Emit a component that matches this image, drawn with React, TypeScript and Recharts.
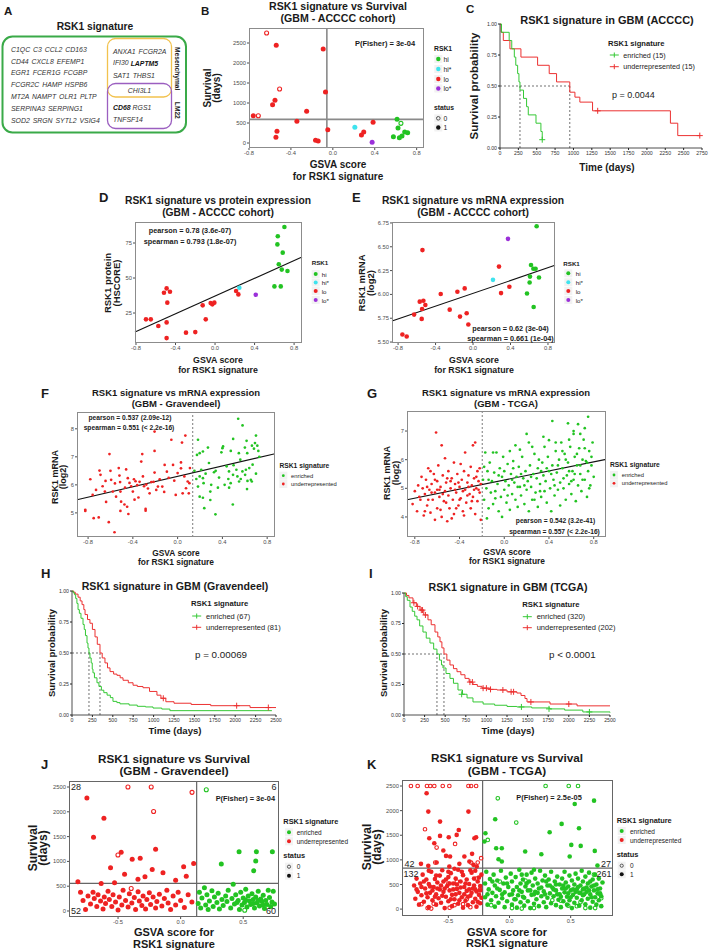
import React from 'react'
import {
  ScatterChart, Scatter, ComposedChart, Line,
  XAxis, YAxis, ReferenceLine,
} from 'recharts'

// ── Estilo ───────────────────────────────────────────────────────────────────

const FONT = '"Liberation Sans", Arial, Helvetica, sans-serif'

const GREEN = '#22c322'
const RED = '#ee2222'
const CYAN = '#3ee3ee'
const PURPLE = '#9b30d9'
const KM_GREEN = '#35c835'
const KM_RED = '#ec3131'

type Pt = [number, number]
type Box = { x: number; y: number; w: number; h: number }

// ── Ticks ────────────────────────────────────────────────────────────────────

const gsvaTicks = [-0.8, -0.4, 0, 0.4, 0.8]
const gsvaTicksWide = [-0.5, 0, 0.5]
const survTicks = [0, 500, 1000, 1500, 2000, 2500]
const proteinTicks = [25, 50, 75]
const mrnaTicksE = [5.5, 5.75, 6, 6.25, 6.5, 6.75]
const mrnaTicksF = [5, 6, 7, 8]
const mrnaTicksG = [4, 5, 6, 7]
const probTicks = [0, 0.25, 0.5, 0.75, 1]
const timeTicksC = [0, 250, 500, 750, 1000, 1250, 1500, 1750, 2000, 2250, 2500, 2750]
const timeTicks = [0, 250, 500, 750, 1000, 1250, 1500, 1750, 2000, 2250, 2500]

// ── A: gene lists ────────────────────────────────────────────────────────────

const genesMain = [
  'C1QC  C3  CCL2  CD163',
  'CD44  CXCL8  EFEMP1',
  'EGR1  FCER1G  FCGBP',
  'FCGR2C  HAMP  HSPB6',
  'MT2A  NAMPT  OLR1  PLTP',
  'SERPINA3  SERPING1',
  'SOD2  SRGN  SYTL2  VSIG4',
]

// ── B: survival vs GSVA (ACCCC) ──────────────────────────────────────────────

const bHi: Pt[] = [[0.613, 591], [0.622, 375], [0.686, 275], [0.714, 258], [0.578, 158], [0.635, 133], [0.66, 175]]
const bHiOpen: Pt[] = [[0.65, 491]]
const bHiStar: Pt[] = [[0.21, 391]]
const bLo: Pt[] = [
  [-0.54, 2441], [-0.092, 2350], [-0.07, 1275], [-0.552, 1066], [-0.575, 958], [-0.25, 791],
  [-0.759, 683], [-0.343, 541], [-0.048, 333], [-0.533, 291], [-0.543, 141], [-0.165, 66],
  [-0.14, 50], [0.384, 516], [0.295, 275], [0.273, 200],
]
const bLoOpen: Pt[] = [[-0.632, 2750], [-0.508, 1350], [-0.711, 683]]
const bLoStar: Pt[] = [[0.375, 16]]

// ── C: KM ACCCC ──────────────────────────────────────────────────────────────

const cEnriched: Pt[] = [
  [0, 1], [20, 0.933], [125, 0.867], [160, 0.8], [195, 0.733], [215, 0.667], [240, 0.6],
  [258, 0.533], [272, 0.467], [320, 0.4], [362, 0.333], [385, 0.267], [490, 0.2], [557, 0.133], [575, 0.067],
]
const cEnrichedCens: Pt[] = [[575, 0.067]]
const cUnder: Pt[] = [
  [0, 1], [15, 0.933], [45, 0.867], [135, 0.8], [285, 0.733], [512, 0.667], [670, 0.6], [770, 0.533],
  [950, 0.45], [1020, 0.41], [1087, 0.37], [1260, 0.3], [2320, 0.2], [2420, 0.1], [2720, 0.1],
]
const cUnderCens: Pt[] = [[1330, 0.3], [2720, 0.1]]
const cMedians = [272, 950]

// ── D: protein vs GSVA ───────────────────────────────────────────────────────

const dHi: Pt[] = [[0.702, 86.4], [0.635, 79.8], [0.631, 74], [0.685, 68.1], [0.645, 59.8], [0.675, 56], [0.733, 55], [0.601, 44], [0.665, 44]]
const dHiStar: Pt[] = [[0.246, 43.1]]
const dLo: Pt[] = [
  [-0.49, 42.6], [-0.517, 39.5], [-0.456, 40.2], [-0.125, 30.5], [-0.044, 32.1], [-0.027, 31.2],
  [-0.007, 32.4], [-0.483, 32.4], [-0.094, 20.5], [-0.49, 18.3], [-0.699, 20.5], [-0.65, 20.5],
  [-0.574, 15.7], [-0.49, 7.1], [-0.294, 11], [-0.2, 11.4], [0.213, 40.7], [0.236, 38.3],
]
const dLoStar: Pt[] = [[0.412, 38.1]]
const dFit: Pt[] = [[-0.81, 11.4], [0.88, 65]]

// ── E: mRNA vs GSVA (ACCCC) ──────────────────────────────────────────────────

const eHi: Pt[] = [[0.679, 6.715], [0.619, 6.309], [0.644, 6.27], [0.668, 6.27], [0.608, 6.187], [0.704, 6.177], [0.604, 6.125], [0.576, 6.01], [0.647, 5.868]]
const eHiStar: Pt[] = [[0.213, 6.153]]
const eLoStar: Pt[] = [[0.373, 6.583]]
const eLo: Pt[] = [
  [0.277, 6.292], [0.388, 6.08], [0.299, 6.014], [-0.54, 6.465], [-0.345, 6.004], [-0.167, 6.028],
  [-0.089, 6.063], [-0.569, 5.924], [-0.53, 5.934], [-0.509, 5.889], [-0.544, 5.847], [-0.629, 5.788],
  [-0.548, 5.743], [-0.249, 5.84], [-0.139, 5.767], [-0.068, 5.802], [-0.05, 5.684], [-0.754, 5.58], [-0.708, 5.559],
]
const eFit: Pt[] = [[-0.865, 5.72], [0.875, 6.305]]

// ── F: mRNA vs GSVA (Gravendeel) ─────────────────────────────────────────────

const fUnder: Pt[] = [
  [-0.825, 5.11], [-0.698, 6.51], [-0.689, 6.36], [-0.644, 6.14], [-0.65, 5.76], [-0.639, 5.39], [-0.609, 7.1],
  [-0.594, 6.18], [-0.579, 5.76], [-0.55, 5.58], [-0.526, 6.6], [-0.52, 6.33], [-0.514, 6.1], [-0.511, 5.76],
  [-0.505, 5.4], [-0.475, 5.3], [-0.451, 5.22], [-0.445, 6.24], [-0.43, 6.07], [-0.415, 5.95], [-0.4, 5.76],
  [-0.385, 5.47], [-0.376, 6.13], [-0.361, 5.99], [-0.34, 6.11], [-0.316, 7.1], [-0.31, 6.3], [-0.325, 6.83],
  [-0.286, 5.14], [-0.28, 6.01], [-0.265, 5.87], [-0.235, 6.1], [-0.206, 7.21], [-0.206, 6.44], [-0.215, 6.11],
  [-0.191, 5.82], [-0.206, 7.9], [-0.176, 5.94], [-0.137, 5.94], [-0.116, 6.71], [-0.096, 6.47], [-0.056, 7.61],
  [-0.041, 6.71], [-0.017, 5.64], [0.0, 6.42], [0.03, 6.8], [0.03, 6.59], [0.039, 7.51], [0.045, 5.7],
  [0.069, 7.76], [0.075, 5.88], [0.09, 6.12], [0.105, 6.06], [0.1, 5.7], [-0.825, 5.07], [-0.75, 4.81],
  [-0.705, 4.84], [-0.615, 4.67], [-0.564, 4.31], [-0.511, 5.07], [-0.44, 4.96], [-0.286, 5.08], [-0.759, 5.64],
  [-0.729, 5.82], [-0.67, 5.95], [-0.6, 6.5], [-0.56, 6.05], [-0.47, 5.9], [-0.46, 6.55], [-0.39, 6.2],
  [-0.35, 5.55], [-0.3, 5.95], [-0.25, 5.7], [-0.16, 6.2], [-0.12, 5.75], [-0.08, 6.25], [-0.03, 6.15],
  [0.06, 6.3], [0.11, 6.6], [-0.78, 6.2],
]
const fEnriched: Pt[] = [
  [0.541, 8.36], [0.58, 8.12], [0.496, 7.64], [0.7, 7.76], [0.616, 7.57], [0.664, 7.4], [0.182, 7.61],
  [0.173, 7.07], [0.226, 7.19], [0.197, 7.13], [0.271, 7.33], [0.4, 7.31], [0.391, 7.16], [0.406, 7.37],
  [0.475, 7.21], [0.547, 7.13], [0.601, 7.33], [0.622, 7.13], [0.682, 7.29], [0.691, 7.49], [0.712, 7.4],
  [0.721, 7.21], [0.28, 6.78], [0.211, 6.54], [0.197, 6.3], [0.226, 6.24], [0.232, 6.06], [0.167, 6.21],
  [0.182, 5.94], [0.325, 6.45], [0.34, 6.5], [0.37, 6.26], [0.438, 6.66], [0.459, 6.48], [0.453, 6.21],
  [0.474, 6.06], [0.495, 6.36], [0.525, 6.54], [0.534, 6.3], [0.549, 6.12], [0.564, 6.21], [0.579, 6.48],
  [0.61, 6.54], [0.603, 6.36], [0.624, 6.14], [0.654, 6.18], [0.663, 6.12], [0.67, 6.72], [0.292, 5.76],
  [0.197, 5.58], [0.226, 5.54], [0.292, 5.46], [0.238, 5.17], [0.493, 5.3], [0.338, 4.95], [0.25, 6.4],
  [0.3, 6.0], [0.42, 6.0], [0.5, 6.7], [0.56, 6.9], [0.64, 6.6], [0.73, 7.0], [0.15, 6.5], [0.36, 5.9],
  [0.46, 5.9], [0.62, 5.85], [0.7, 6.4],
]
const fFit: Pt[] = [[-0.899, 5.47], [0.87, 7.11]]
const fCut = 0.135

// ── G: mRNA vs GSVA (TCGA) ───────────────────────────────────────────────────

const gUnder: Pt[] = [
  [-0.82, 4.45], [-0.8, 4.9], [-0.78, 4.2], [-0.77, 5.1], [-0.75, 4.6], [-0.74, 5.4], [-0.72, 4.05], [-0.71, 4.8],
  [-0.7, 5.3], [-0.69, 4.4], [-0.68, 5.7], [-0.67, 4.95], [-0.66, 4.15], [-0.65, 5.15], [-0.64, 4.6], [-0.63, 5.5],
  [-0.62, 3.9], [-0.62, 4.85], [-0.61, 6.95], [-0.6, 5.25], [-0.6, 4.3], [-0.59, 5.8], [-0.58, 4.7], [-0.57, 5.05],
  [-0.56, 6.5], [-0.56, 4.0], [-0.55, 5.45], [-0.54, 4.55], [-0.53, 6.05], [-0.53, 4.9], [-0.52, 5.2], [-0.51, 3.85],
  [-0.5, 4.75], [-0.5, 5.6], [-0.49, 4.3], [-0.48, 5.0], [-0.47, 5.35], [-0.46, 4.6], [-0.45, 5.9], [-0.45, 4.1],
  [-0.44, 5.15], [-0.43, 4.85], [-0.42, 5.5], [-0.41, 4.4], [-0.4, 5.05], [-0.39, 5.85], [-0.39, 4.65], [-0.38, 5.3],
  [-0.37, 4.2], [-0.36, 5.6], [-0.35, 4.95], [-0.35, 6.25], [-0.34, 4.5], [-0.33, 5.2], [-0.32, 5.45], [-0.31, 4.8],
  [-0.3, 5.75], [-0.3, 4.3], [-0.29, 5.1], [-0.28, 6.5], [-0.28, 4.7], [-0.27, 5.35], [-0.26, 6.6], [-0.26, 4.1],
  [-0.25, 5.0], [-0.24, 5.6], [-0.24, 4.55], [-0.23, 5.25], [-0.22, 4.85], [-0.22, 5.7], [-0.21, 3.9], [-0.21, 5.15],
  [-0.76, 4.7], [-0.73, 5.0], [-0.68, 4.6], [-0.65, 4.85], [-0.62, 5.3], [-0.58, 4.95], [-0.55, 4.8], [-0.52, 4.5],
  [-0.48, 5.25], [-0.44, 4.95], [-0.41, 5.2], [-0.37, 4.9], [-0.33, 4.75], [-0.29, 4.55], [-0.25, 5.4], [-0.23, 4.95],
  [-0.71, 4.2], [-0.66, 5.6], [-0.57, 4.25], [-0.47, 3.95], [-0.43, 4.3], [-0.36, 4.05], [-0.32, 5.05], [-0.27, 4.95],
  [-0.69, 5.05], [-0.6, 4.95], [-0.51, 5.35], [-0.4, 4.6],
]
const gEnriched: Pt[] = [
  [-0.19, 5.3], [-0.18, 4.6], [-0.17, 6.25], [-0.16, 5.0], [-0.155, 3.95], [-0.15, 5.6], [-0.14, 4.3], [-0.13, 5.9],
  [-0.12, 4.85], [-0.11, 5.25], [-0.1, 6.25], [-0.1, 4.45], [-0.09, 5.55], [-0.08, 4.9], [-0.07, 6.25], [-0.06, 5.15],
  [-0.05, 4.2], [-0.04, 5.7], [-0.03, 4.7], [-0.02, 4.0], [-0.02, 5.4], [-0.01, 6.1], [0.0, 4.95], [0.01, 5.25],
  [0.02, 4.5], [0.03, 5.85], [0.04, 5.1], [0.05, 6.3], [0.05, 4.25], [0.06, 5.5], [0.07, 4.8], [0.08, 5.95],
  [0.09, 5.2], [0.1, 4.6], [0.1, 6.5], [0.11, 5.4], [0.12, 4.35], [0.13, 5.75], [0.14, 5.05], [0.15, 4.75],
  [0.16, 6.1], [0.17, 5.35], [0.18, 4.45], [0.19, 5.6], [0.2, 6.9], [0.2, 4.95], [0.21, 5.25], [0.22, 6.6],
  [0.22, 4.2], [0.23, 5.8], [0.24, 5.05], [0.25, 4.6], [0.26, 5.5], [0.27, 6.2], [0.28, 4.85], [0.29, 5.35],
  [0.3, 5.7], [0.3, 4.35], [0.31, 6.0], [0.32, 5.15], [0.33, 4.7], [0.34, 5.9], [0.35, 5.45], [0.36, 6.45],
  [0.36, 4.9], [0.37, 5.25], [0.38, 4.5], [0.39, 6.1], [0.4, 6.68], [0.4, 5.6], [0.41, 5.0], [0.42, 4.2],
  [0.43, 7.35], [0.43, 5.8], [0.44, 5.3], [0.45, 4.75], [0.46, 6.3], [0.47, 5.55], [0.48, 4.95], [0.49, 6.0],
  [0.5, 5.2], [0.5, 4.4], [0.51, 6.6], [0.52, 5.7], [0.53, 5.0], [0.54, 6.2], [0.55, 4.6], [0.56, 5.45],
  [0.57, 7.27], [0.57, 5.9], [0.58, 5.15], [0.59, 6.45], [0.6, 4.8], [0.61, 5.6], [0.62, 6.9], [0.62, 5.3],
  [0.63, 6.1], [0.64, 4.55], [0.65, 5.8], [0.66, 7.24], [0.66, 5.1], [0.67, 6.4], [0.68, 5.5], [0.69, 4.9],
  [0.7, 6.0], [0.71, 6.7], [0.72, 5.3], [0.73, 5.95], [0.74, 4.7], [0.75, 7.5], [0.75, 5.6], [0.76, 6.3],
  [0.77, 5.1], [0.78, 5.8], [0.79, 6.6], [0.8, 5.4], [-0.18, 5.75], [-0.14, 5.3], [-0.08, 4.65], [-0.05, 5.45],
  [0.0, 5.6], [0.03, 4.75], [0.07, 5.3], [0.12, 5.05], [0.15, 5.5], [0.18, 5.1], [0.24, 5.4], [0.27, 4.6],
  [0.33, 5.6], [0.38, 5.7], [0.42, 5.5], [0.45, 5.1], [0.48, 5.8], [0.53, 5.35], [0.55, 6.0], [0.58, 5.6],
  [0.6, 5.25], [0.63, 5.5], [0.65, 6.2], [0.68, 5.8], [0.7, 5.3], [0.72, 6.4], [0.74, 5.9], [0.76, 5.0],
  [0.78, 6.1], [0.58, 6.7], [0.52, 6.3], [0.46, 6.6], [0.62, 7.0], [0.68, 6.9], [0.72, 7.1], [0.35, 6.8],
  [0.25, 6.45], [0.14, 6.35], [0.08, 5.7], [0.32, 4.9],
]
const gFit: Pt[] = [[-0.87, 4.6], [0.91, 6.01]]
const gCut = -0.197

// ── H: KM Gravendeel ─────────────────────────────────────────────────────────

const hEnriched: Pt[] = [
  [0, 1], [15, 0.985], [30, 0.97], [45, 0.94], [60, 0.9], [74, 0.85], [90, 0.82], [110, 0.78], [135, 0.73],
  [150, 0.69], [165, 0.64], [184, 0.58], [196, 0.54], [208, 0.5], [220, 0.46], [235, 0.42], [248, 0.37],
  [257, 0.34], [275, 0.3], [306, 0.26], [330, 0.23], [360, 0.2], [390, 0.18], [430, 0.16], [470, 0.14],
  [502, 0.11], [550, 0.1], [588, 0.09], [700, 0.08], [800, 0.07], [900, 0.065], [993, 0.056], [1100, 0.048],
  [1200, 0.035], [2450, 0.035],
]
const hUnder: Pt[] = [
  [0, 1], [20, 0.99], [40, 0.975], [74, 0.95], [100, 0.92], [123, 0.89], [145, 0.85], [160, 0.81], [190, 0.77],
  [220, 0.74], [250, 0.69], [282, 0.63], [310, 0.57], [343, 0.5], [370, 0.46], [404, 0.42], [435, 0.38],
  [466, 0.35], [510, 0.33], [551, 0.32], [590, 0.3], [625, 0.28], [690, 0.26], [748, 0.24], [800, 0.23],
  [870, 0.22], [950, 0.19], [1041, 0.16], [1090, 0.135], [1150, 0.107], [1250, 0.095], [1460, 0.085],
  [1700, 0.075], [2182, 0.06], [2500, 0.06],
]
const hUnderCens: Pt[] = [[1119, 0.135], [2018, 0.075], [2406, 0.06]]
const hMedians = [208, 343]

// ── I: KM TCGA ───────────────────────────────────────────────────────────────

const iEnriched: Pt[] = [
  [0, 1], [20, 0.97], [40, 0.94], [73, 0.885], [100, 0.85], [130, 0.81], [158, 0.78], [190, 0.73], [230, 0.68],
  [270, 0.63], [315, 0.59], [360, 0.54], [400, 0.5], [430, 0.45], [455, 0.41], [473, 0.385], [510, 0.34],
  [558, 0.3], [600, 0.26], [655, 0.205], [710, 0.17], [765, 0.14], [837, 0.107], [960, 0.09], [1100, 0.08],
  [1250, 0.07], [1370, 0.066], [1550, 0.058], [1772, 0.05], [1950, 0.04], [2170, 0.025], [2500, 0.02],
]
const iEnrichedCens: Pt[] = [[700, 0.17], [1425, 0.066], [1760, 0.05], [2250, 0.025]]
const iUnder: Pt[] = [
  [0, 1], [30, 0.98], [60, 0.96], [109, 0.92], [150, 0.89], [194, 0.86], [240, 0.82], [291, 0.78], [330, 0.74],
  [376, 0.68], [410, 0.64], [437, 0.6], [460, 0.55], [485, 0.5], [520, 0.45], [558, 0.41], [600, 0.38],
  [643, 0.355], [690, 0.33], [740, 0.3], [790, 0.27], [837, 0.25], [890, 0.235], [947, 0.22], [1040, 0.21],
  [1128, 0.205], [1250, 0.19], [1370, 0.18], [1420, 0.16], [1468, 0.135], [1493, 0.107], [1772, 0.09],
  [2100, 0.075], [2500, 0.075],
]
const iUnderCens: Pt[] = [
  [120, 0.92], [165, 0.89], [210, 0.86], [225, 0.86], [260, 0.82], [800, 0.27], [830, 0.27], [960, 0.22],
  [1000, 0.22], [1050, 0.21], [1200, 0.205], [1300, 0.19], [1330, 0.19], [1540, 0.107], [2000, 0.09],
]
const iMedians = [400, 485]

// ── J: survival vs GSVA (Gravendeel) ─────────────────────────────────────────

const jUnderFilled: Pt[] = [
  [-0.749, 2277], [-0.613, 1872], [-0.696, 1487], [-0.475, 1182], [-0.2, 1243], [-0.387, 1041], [-0.323, 1061],
  [-0.56, 872], [-0.227, 838], [-0.141, 770], [0.024, 892], [0.104, 959], [-0.285, 689], [-0.341, 642],
  [-0.448, 743], [-0.04, 622], [0.045, 703], [-0.821, 588], [-0.528, 568], [-0.635, 554],
  [-0.8, 380], [-0.78, 210], [-0.76, 30], [-0.74, 300], [-0.72, 140], [-0.7, 380], [-0.69, 250], [-0.67, 90],
  [-0.66, 330], [-0.64, 200], [-0.62, 40], [-0.61, 280], [-0.6, 150], [-0.58, 400], [-0.57, 230], [-0.55, 90],
  [-0.54, 330], [-0.52, 180], [-0.5, 20], [-0.49, 280], [-0.47, 120], [-0.46, 420], [-0.44, 210], [-0.42, 80],
  [-0.41, 350], [-0.39, 160], [-0.37, 270], [-0.36, 30], [-0.34, 390], [-0.33, 200], [-0.31, 110], [-0.3, 300],
  [-0.28, 40], [-0.27, 230], [-0.25, 370], [-0.24, 130], [-0.22, 280], [-0.2, 60], [-0.19, 190], [-0.17, 340],
  [-0.15, 100], [-0.13, 250], [-0.11, 420], [-0.1, 160], [-0.08, 30], [-0.06, 300], [-0.04, 120], [-0.02, 380],
  [0.0, 210], [0.03, 70], [0.06, 330], [0.09, 180],
]
const jUnderOpen: Pt[] = [[-0.421, 2500], [-0.235, 2500], [0.091, 2392], [-0.216, 2007], [-0.501, 1128], [-0.395, 453]]
const jEnrichedFilled: Pt[] = [
  [0.325, 946], [0.467, 1196], [0.605, 1196], [0.6, 1007], [0.584, 811], [0.733, 1196],
  [0.14, 150], [0.15, 380], [0.16, 60], [0.17, 260], [0.19, 470], [0.2, 120], [0.21, 330], [0.22, 30],
  [0.23, 200], [0.25, 410], [0.26, 90], [0.27, 280], [0.29, 170], [0.3, 360], [0.31, 40], [0.33, 230],
  [0.34, 110], [0.36, 300], [0.37, 190], [0.38, 420], [0.4, 60], [0.41, 250], [0.42, 540], [0.43, 140],
  [0.44, 330], [0.46, 210], [0.47, 30], [0.48, 380], [0.49, 120], [0.5, 260], [0.51, 170], [0.52, 440],
  [0.53, 80], [0.54, 300], [0.55, 200], [0.56, 130], [0.57, 350], [0.58, 230], [0.59, 60], [0.6, 280],
  [0.61, 160], [0.62, 400], [0.63, 100], [0.64, 240], [0.65, 190], [0.66, 320], [0.67, 50], [0.68, 210],
  [0.69, 130], [0.7, 420], [0.71, 270], [0.72, 90], [0.73, 180], [0.74, 400], [0.75, 140], [0.52, 220],
  [0.45, 170], [0.58, 150], [0.62, 210], [0.66, 120],
]
const jEnrichedOpen: Pt[] = [[0.205, 2446], [0.512, 14]]
const jCutX = 0.128
const jCutY = 557

// ── K: survival vs GSVA (TCGA) ───────────────────────────────────────────────

const kUnderFilled: Pt[] = [
  [-0.678, 2352], [-0.664, 1980], [-0.336, 1980], [-0.568, 1777], [-0.415, 1608], [-0.656, 1439], [-0.568, 1487],
  [-0.497, 1460], [-0.432, 1507], [-0.287, 1439], [-0.273, 1460], [-0.615, 1338], [-0.541, 1189], [-0.519, 1081],
  [-0.486, 1068], [-0.369, 1068], [-0.306, 1122], [-0.724, 919], [-0.664, 878], [-0.596, 946], [-0.492, 865],
  [-0.41, 919], [-0.328, 966], [-0.295, 899], [-0.268, 865],
  [-0.78, 480], [-0.77, 210], [-0.76, 620], [-0.75, 350], [-0.74, 90], [-0.73, 520], [-0.72, 280], [-0.71, 700],
  [-0.7, 150], [-0.69, 420], [-0.68, 600], [-0.67, 240], [-0.66, 40], [-0.66, 510], [-0.65, 330], [-0.64, 760],
  [-0.63, 180], [-0.62, 450], [-0.61, 610], [-0.6, 90], [-0.6, 300], [-0.59, 540], [-0.58, 220], [-0.57, 680],
  [-0.57, 400], [-0.56, 130], [-0.55, 790], [-0.54, 350], [-0.54, 560], [-0.53, 20], [-0.52, 250], [-0.51, 470],
  [-0.5, 650], [-0.5, 160], [-0.49, 380], [-0.48, 730], [-0.47, 60], [-0.47, 290], [-0.46, 520], [-0.45, 200],
  [-0.44, 620], [-0.43, 410], [-0.42, 110], [-0.42, 800], [-0.41, 330], [-0.4, 560], [-0.39, 240], [-0.38, 690],
  [-0.38, 30], [-0.37, 450], [-0.36, 170], [-0.35, 600], [-0.35, 370], [-0.34, 80], [-0.33, 510], [-0.32, 270],
  [-0.31, 740], [-0.3, 140], [-0.3, 420], [-0.29, 620], [-0.28, 210], [-0.27, 50], [-0.27, 360], [-0.26, 560],
  [-0.25, 290], [-0.24, 120], [-0.24, 470], [-0.23, 700], [-0.23, 230], [-0.76, 400], [-0.72, 450], [-0.7, 560],
  [-0.68, 320], [-0.65, 460], [-0.63, 380], [-0.61, 250], [-0.59, 420], [-0.56, 480], [-0.55, 270], [-0.53, 420],
  [-0.52, 600], [-0.49, 520], [-0.48, 200], [-0.46, 400], [-0.44, 300], [-0.43, 500], [-0.41, 180], [-0.4, 440],
  [-0.37, 300], [-0.36, 520], [-0.34, 250], [-0.33, 400], [-0.31, 330], [-0.29, 480], [-0.28, 400], [-0.26, 150],
  [-0.25, 640], [-0.24, 380], [-0.6, 680], [-0.5, 760], [-0.45, 820], [-0.39, 760], [-0.32, 790], [-0.28, 780],
  [-0.66, 780],
]
const kUnderOpen: Pt[] = [
  [-0.806, 2500], [-0.751, 2500], [-0.675, 2500], [-0.648, 2500], [-0.615, 2500], [-0.546, 2500], [-0.492, 2500],
  [-0.336, 2500], [-0.314, 2500], [-0.273, 2500], [-0.691, 1622], [-0.445, 1324], [-0.596, 1250], [-0.607, 946],
  [-0.314, 946], [-0.26, 946], [-0.232, 1034], [-0.72, 100], [-0.67, 20], [-0.64, 10], [-0.62, 110], [-0.49, 30],
  [-0.45, 80], [-0.38, 100], [-0.32, 40], [-0.5, 520], [-0.43, 560], [-0.35, 200], [-0.27, 620], [-0.24, 400],
]
const kEnrichedFilled: Pt[] = [
  [0.533, 2135], [0.691, 2203], [-0.117, 1824], [0.426, 1730], [0.568, 1642], [0.328, 1561], [-0.197, 1541],
  [-0.205, 1372], [-0.109, 1236], [-0.063, 1236], [0.128, 1169], [0.26, 1115], [0.505, 1304], [0.582, 1284],
  [0.492, 1068], [0.697, 1182], [-0.09, 1014], [-0.063, 966], [0.719, 885],
  [-0.2, 520], [-0.2, 240], [-0.19, 760], [-0.18, 90], [-0.17, 400], [-0.16, 610], [-0.15, 180], [-0.14, 330],
  [-0.13, 700], [-0.12, 50], [-0.12, 480], [-0.11, 260], [-0.1, 580], [-0.09, 130], [-0.08, 390], [-0.07, 780],
  [-0.06, 220], [-0.05, 520], [-0.04, 40], [-0.04, 340], [-0.03, 640], [-0.02, 160], [-0.01, 450], [0.0, 290],
  [0.01, 720], [0.02, 90], [0.02, 560], [0.03, 380], [0.04, 200], [0.05, 650], [0.06, 30], [0.06, 450],
  [0.07, 280], [0.08, 800], [0.09, 140], [0.09, 520], [0.1, 350], [0.11, 600], [0.12, 70], [0.12, 230],
  [0.13, 460], [0.14, 700], [0.15, 160], [0.15, 380], [0.16, 560], [0.17, 20], [0.18, 290], [0.18, 740],
  [0.19, 480], [0.2, 110], [0.21, 620], [0.21, 350], [0.22, 200], [0.23, 520], [0.24, 60], [0.24, 420],
  [0.25, 780], [0.26, 260], [0.27, 580], [0.28, 140], [0.28, 360], [0.29, 680], [0.3, 40], [0.31, 480],
  [0.31, 230], [0.32, 600], [0.33, 320], [0.34, 120], [0.34, 760], [0.35, 440], [0.36, 260], [0.37, 560],
  [0.38, 80], [0.38, 380], [0.39, 660], [0.4, 190], [0.41, 500], [0.41, 300], [0.42, 40], [0.43, 620],
  [0.43, 420], [0.44, 160], [0.45, 760], [0.45, 340], [0.46, 540], [0.47, 90], [0.47, 250], [0.48, 460],
  [0.49, 680], [0.49, 180], [0.5, 380], [0.51, 580], [0.51, 20], [0.52, 290], [0.53, 500], [0.53, 130],
  [0.54, 720], [0.55, 400], [0.55, 230], [0.56, 620], [0.57, 70], [0.57, 330], [0.58, 480], [0.59, 180],
  [0.59, 780], [0.6, 560], [0.6, 280], [0.61, 420], [0.62, 100], [0.62, 660], [0.63, 350], [0.64, 210],
  [0.64, 520], [0.65, 740], [0.66, 30], [0.66, 300], [0.67, 460], [0.68, 150], [0.68, 600], [0.69, 380],
  [0.7, 240], [0.7, 700], [0.71, 90], [0.71, 500], [0.72, 320], [0.73, 180], [0.73, 620], [0.74, 420],
  [0.75, 60], [0.75, 260], [0.76, 540], [-0.18, 300], [-0.14, 560], [-0.1, 420], [-0.06, 300], [-0.02, 520],
  [0.02, 300], [0.05, 200], [0.08, 380], [0.11, 250], [0.14, 520], [0.17, 380], [0.2, 300], [0.23, 330],
  [0.26, 440], [0.29, 300], [0.33, 480], [0.36, 400], [0.39, 300], [0.42, 250], [0.44, 480], [0.48, 320],
  [0.5, 240], [0.52, 400], [0.56, 450], [0.58, 330], [0.61, 300], [0.63, 440], [0.65, 380], [0.67, 240],
  [0.69, 480], [0.72, 400], [0.74, 320], [0.46, 420], [0.54, 350], [0.6, 400], [0.66, 560], [0.38, 500],
  [0.3, 560], [0.1, 700], [0.2, 800],
]
const kEnrichedOpen: Pt[] = [
  [0.295, 2500], [0.484, 2500], [0.56, 2500], [-0.096, 2250], [0.055, 1757], [-0.178, 1405],
  [-0.15, 80], [-0.08, 560], [0.02, 20], [0.1, 10], [0.13, 580], [0.2, 20], [0.35, 180], [0.42, 170],
  [0.48, 70], [0.55, 60], [0.62, 20], [0.69, 700], [0.74, 300], [0.75, 220], [0.7, 20], [0.58, 140],
]
const kCutX = -0.22
const kCutY = 831

// ── Helpers ──────────────────────────────────────────────────────────────────

const toXY = (pts: Pt[]) => pts.map(([x, y]) => ({ x, y }))
const toTP = (pts: Pt[]) => pts.map(([t, p]) => ({ t, p }))
const fmt1 = (v: number) => v.toFixed(1)
const fmt2 = (v: number) => v.toFixed(2)
const fmt0 = (v: number) => String(v)

function dotShape(color: string, r: number, open?: boolean) {
  return (p: any) => open
    ? <circle cx={p.cx} cy={p.cy} r={r - 0.5} fill="none" stroke={color} strokeWidth={1.1} />
    : <circle cx={p.cx} cy={p.cy} r={r} fill={color} />
}

function plusShape(color: string) {
  return (p: any) => (
    <path d={`M${p.cx - 3},${p.cy}h6M${p.cx},${p.cy - 3}v6`} stroke={color} strokeWidth={1} fill="none" />
  )
}

interface Series { pts: Pt[]; color: string; r: number; open?: boolean }

function ScatterPanel(props: {
  box: Box; xDomain: [number, number]; yDomain: [number, number]
  xTicks: number[]; yTicks: number[]; xFmt: (v: number) => string; yFmt: (v: number) => string
  series: Series[]; fit?: Pt[]; vline?: number; hline?: number
  lineColor?: string; lineWidth?: number; dashed?: boolean
}) {
  const { box } = props
  const YW = 26, XH = 12, MT = 4, MR = 4
  const tick = { fontSize: 5.8, fill: '#4d4d4d', fontFamily: FONT }
  const lc = props.lineColor ?? '#333'
  const lw = props.lineWidth ?? 0.8
  const dash = props.dashed ? '2 2' : undefined
  return (
    <div style={{ position: 'absolute', left: box.x - YW, top: box.y - MT }}>
      <ScatterChart width={box.w + YW + MR} height={box.h + MT + XH} margin={{ top: MT, right: MR, bottom: 0, left: 0 }}>
        <XAxis type="number" dataKey="x" domain={props.xDomain} ticks={props.xTicks} interval={0}
          tickFormatter={props.xFmt} tick={tick} tickSize={2} tickMargin={1} axisLine={false}
          tickLine={{ stroke: '#4d4d4d' }} height={XH} />
        <YAxis type="number" dataKey="y" domain={props.yDomain} ticks={props.yTicks} interval={0}
          tickFormatter={props.yFmt} tick={tick} tickSize={2} tickMargin={1} axisLine={false}
          tickLine={{ stroke: '#4d4d4d' }} width={YW} />
        {props.series.map((s, i) => (
          <Scatter key={i} data={toXY(s.pts)} shape={dotShape(s.color, s.r, s.open)} isAnimationActive={false} />
        ))}
        {props.vline !== undefined && (
          <ReferenceLine x={props.vline} stroke={lc} strokeWidth={lw} strokeDasharray={dash} />
        )}
        {props.hline !== undefined && (
          <ReferenceLine y={props.hline} stroke={lc} strokeWidth={lw} />
        )}
        {props.fit && (
          <ReferenceLine segment={props.fit.map(([x, y]) => ({ x, y }))} stroke="#111" strokeWidth={1.1} ifOverflow="visible" />
        )}
      </ScatterChart>
    </div>
  )
}

interface Curve { pts: Pt[]; color: string; censor?: Pt[] }

function KMPanel({ box, xMax, xTicks, curves, medians }: {
  box: Box; xMax: number; xTicks: number[]; curves: Curve[]; medians: number[]
}) {
  const YW = 26, XH = 12, MT = 6, MR = 10
  const tick = { fontSize: 5.2, fill: '#333', fontFamily: FONT }
  const mMax = Math.max(...medians)
  return (
    <div style={{ position: 'absolute', left: box.x - YW, top: box.y - MT }}>
      <ComposedChart width={box.w + YW + MR} height={box.h + MT + XH} margin={{ top: MT, right: MR, bottom: 0, left: 0 }}>
        <XAxis type="number" dataKey="t" domain={[0, xMax]} ticks={xTicks} interval={0} tick={tick}
          tickSize={2} tickMargin={1} axisLine={{ stroke: '#222', strokeWidth: 0.8 }} tickLine={{ stroke: '#222' }} height={XH} />
        <YAxis type="number" dataKey="p" domain={[0, 1]} ticks={probTicks} interval={0} tickFormatter={fmt2} tick={tick}
          tickSize={2} tickMargin={1} axisLine={{ stroke: '#222', strokeWidth: 0.8 }} tickLine={{ stroke: '#222' }} width={YW} />
        <ReferenceLine segment={[{ x: 0, y: 0.5 }, { x: mMax, y: 0.5 }]} stroke="#333" strokeWidth={0.7} strokeDasharray="2 2" />
        {medians.map((m, i) => (
          <ReferenceLine key={i} segment={[{ x: m, y: 0 }, { x: m, y: 0.5 }]} stroke="#333" strokeWidth={0.7} strokeDasharray="2 2" />
        ))}
        {curves.map((c, i) => (
          <Line key={'l' + i} data={toTP(c.pts)} dataKey="p" type="stepAfter" stroke={c.color} strokeWidth={1}
            dot={false} activeDot={false} isAnimationActive={false} />
        ))}
        {curves.map((c, i) => c.censor && (
          <Scatter key={'c' + i} data={toTP(c.censor)} shape={plusShape(c.color)} isAnimationActive={false} />
        ))}
      </ComposedChart>
    </div>
  )
}

// ── Text / legend helpers (overlay) ──────────────────────────────────────────

function Tx({ x, y, s = 7, b = false, i = false, a = 'start', rot = 0, fill = '#1a1a1a', ws, children }: {
  x: number; y: number; s?: number; b?: boolean; i?: boolean; a?: 'start' | 'middle' | 'end'
  rot?: number; fill?: string; ws?: number; children: React.ReactNode
}) {
  return (
    <text x={x} y={y} fontSize={s} fontWeight={b ? 700 : 400} fontStyle={i ? 'italic' : 'normal'}
      textAnchor={a} dominantBaseline="central" fill={fill}
      style={ws ? { wordSpacing: ws } : undefined}
      transform={rot ? `rotate(${rot} ${x} ${y})` : undefined}>
      {children}
    </text>
  )
}

function DotKey({ x, y, tx, color, r, open, label, s }: {
  x: number; y: number; tx: number; color: string; r: number; open?: boolean; label: string; s: number
}) {
  return (
    <g>
      <rect x={x - 4} y={y - 4} width={8} height={8} fill="#f2f2f2" />
      {open
        ? <circle cx={x} cy={y} r={r - 0.4} fill="none" stroke={color} strokeWidth={1} />
        : <circle cx={x} cy={y} r={r} fill={color} />}
      <Tx x={tx} y={y} s={s} fill="#222">{label}</Tx>
    </g>
  )
}

function PlusKey({ x, y, tx, color, label, s }: { x: number; y: number; tx: number; color: string; label: string; s: number }) {
  return (
    <g>
      <path d={`M${x - 4.5},${y}h9M${x},${y - 2.5}v5`} stroke={color} strokeWidth={1} />
      <Tx x={tx} y={y} s={s} fill="#222">{label}</Tx>
    </g>
  )
}

function Frame({ box, color = '#8c8c8c' }: { box: Box; color?: string }) {
  return <rect x={box.x + 0.5} y={box.y + 0.5} width={box.w - 1} height={box.h - 1} fill="none" stroke={color} strokeWidth={1} />
}

// ── Layout ───────────────────────────────────────────────────────────────────

const boxB: Box = { x: 249, y: 28, w: 175, h: 120 }
const boxC: Box = { x: 500, y: 24, w: 202, h: 124 }
const boxD: Box = { x: 135, y: 222, w: 167, h: 121 }
const boxE: Box = { x: 392, y: 222, w: 163, h: 121 }
const boxF: Box = { x: 77, y: 412, w: 198, h: 125 }
const boxG: Box = { x: 407, y: 411, w: 199, h: 126 }
const boxH: Box = { x: 72, y: 591, w: 204, h: 124 }
const boxI: Box = { x: 404, y: 593, w: 206, h: 122 }
const boxJ: Box = { x: 69, y: 781, w: 210, h: 136 }
const boxK: Box = { x: 402, y: 780, w: 211, h: 136 }

export default function App() {
  return (
    <div style={{ position: 'absolute', left: 0, top: 0, width: 709, height: 950, background: '#fff', overflow: 'hidden', fontFamily: FONT }}>
      <ScatterPanel box={boxB} xDomain={[-0.8, 0.87]} yDomain={[-125, 2875]} xTicks={gsvaTicks} yTicks={survTicks}
        xFmt={fmt1} yFmt={fmt0} vline={-0.057} hline={590} lineColor="#8a8a8a" lineWidth={1.6}
        series={[
          { pts: bLo, color: RED, r: 2.5 }, { pts: bLoOpen, color: RED, r: 2.5, open: true },
          { pts: bHi, color: GREEN, r: 2.5 }, { pts: bHiOpen, color: GREEN, r: 2.5, open: true },
          { pts: bHiStar, color: CYAN, r: 2.5 }, { pts: bLoStar, color: PURPLE, r: 2.5 },
        ]} />
      <KMPanel box={boxC} xMax={2750} xTicks={timeTicksC} medians={cMedians}
        curves={[
          { pts: cUnder, color: KM_RED, censor: cUnderCens },
          { pts: cEnriched, color: KM_GREEN, censor: cEnrichedCens },
        ]} />
      <ScatterPanel box={boxD} xDomain={[-0.81, 0.88]} yDomain={[3.6, 90]} xTicks={gsvaTicks} yTicks={proteinTicks}
        xFmt={fmt1} yFmt={fmt0} fit={dFit}
        series={[
          { pts: dLo, color: RED, r: 2.3 }, { pts: dHi, color: GREEN, r: 2.3 },
          { pts: dHiStar, color: CYAN, r: 2.3 }, { pts: dLoStar, color: PURPLE, r: 2.3 },
        ]} />
      <ScatterPanel box={boxE} xDomain={[-0.865, 0.875]} yDomain={[5.49, 6.76]} xTicks={gsvaTicks} yTicks={mrnaTicksE}
        xFmt={fmt1} yFmt={fmt2} fit={eFit}
        series={[
          { pts: eLo, color: RED, r: 2.3 }, { pts: eHi, color: GREEN, r: 2.3 },
          { pts: eHiStar, color: CYAN, r: 2.3 }, { pts: eLoStar, color: PURPLE, r: 2.3 },
        ]} />
      <ScatterPanel box={boxF} xDomain={[-0.899, 0.87]} yDomain={[4.14, 8.6]} xTicks={gsvaTicks} yTicks={mrnaTicksF}
        xFmt={fmt1} yFmt={fmt0} fit={fFit} vline={fCut} dashed lineColor="#444" lineWidth={0.7}
        series={[{ pts: fUnder, color: RED, r: 1.35 }, { pts: fEnriched, color: GREEN, r: 1.35 }]} />
      <ScatterPanel box={boxG} xDomain={[-0.87, 0.91]} yDomain={[3.3, 7.7]} xTicks={gsvaTicks} yTicks={mrnaTicksG}
        xFmt={fmt1} yFmt={fmt0} fit={gFit} vline={gCut} dashed lineColor="#444" lineWidth={0.7}
        series={[{ pts: gUnder, color: RED, r: 1.35 }, { pts: gEnriched, color: GREEN, r: 1.35 }]} />
      <KMPanel box={boxH} xMax={2500} xTicks={timeTicks} medians={hMedians}
        curves={[
          { pts: hUnder, color: KM_RED, censor: hUnderCens },
          { pts: hEnriched, color: KM_GREEN },
        ]} />
      <KMPanel box={boxI} xMax={2500} xTicks={timeTicks} medians={iMedians}
        curves={[
          { pts: iUnder, color: KM_RED, censor: iUnderCens },
          { pts: iEnriched, color: KM_GREEN, censor: iEnrichedCens },
        ]} />
      <ScatterPanel box={boxJ} xDomain={[-0.892, 0.786]} yDomain={[-121, 2621]} xTicks={gsvaTicksWide} yTicks={survTicks}
        xFmt={fmt1} yFmt={fmt0} vline={jCutX} hline={jCutY} lineColor="#666" lineWidth={1.2}
        series={[
          { pts: jUnderFilled, color: RED, r: 2.5 }, { pts: jUnderOpen, color: RED, r: 2.5, open: true },
          { pts: jEnrichedFilled, color: GREEN, r: 2.5 }, { pts: jEnrichedOpen, color: GREEN, r: 2.5, open: true },
        ]} />
      <ScatterPanel box={boxK} xDomain={[-0.879, 0.846]} yDomain={[-140, 2622]} xTicks={gsvaTicksWide} yTicks={survTicks}
        xFmt={fmt1} yFmt={fmt0} vline={kCutX} hline={kCutY} lineColor="#666" lineWidth={1.2}
        series={[
          { pts: kUnderFilled, color: RED, r: 2.3 }, { pts: kUnderOpen, color: RED, r: 2.3, open: true },
          { pts: kEnrichedFilled, color: GREEN, r: 2.3 }, { pts: kEnrichedOpen, color: GREEN, r: 2.3, open: true },
        ]} />

      <svg width={709} height={950} style={{ position: 'absolute', left: 0, top: 0, pointerEvents: 'none' }} fontFamily={FONT}>
        {/* panel letters */}
        <Tx x={4} y={11} s={11.5} b>A</Tx>
        <Tx x={201} y={11} s={11.5} b>B</Tx>
        <Tx x={466} y={9} s={11.5} b>C</Tx>
        <Tx x={99} y={197} s={13} b>D</Tx>
        <Tx x={352} y={197} s={13} b>E</Tx>
        <Tx x={41} y={393} s={13} b>F</Tx>
        <Tx x={367} y={393} s={13} b>G</Tx>
        <Tx x={41} y={573} s={13} b>H</Tx>
        <Tx x={369} y={573} s={13} b>I</Tx>
        <Tx x={41} y={764} s={13} b>J</Tx>
        <Tx x={367} y={764} s={13} b>K</Tx>

        {/* A */}
        <Tx x={95} y={26} s={10.3} b a="middle">RSK1 signature</Tx>
        <rect x={2.5} y={36.5} width={183.5} height={96} rx={10} fill="none" stroke="#3aaa48" strokeWidth={2} />
        <rect x={107.5} y={38.5} width={64} height={58.5} rx={8} fill="none" stroke="#f2c24e" strokeWidth={1.3} />
        <rect x={107.5} y={83.5} width={64} height={45} rx={8} fill="none" stroke="#9b5fc0" strokeWidth={1.3} />
        {genesMain.map((g, i) => (
          <Tx key={i} x={11} y={49.3 + i * 11.8} s={6.9} i fill="#333" ws={1}>{g}</Tx>
        ))}
        <Tx x={113} y={51} s={6.9} i fill="#333" ws={1}>ANXA1  FCGR2A</Tx>
        <text x={113} y={62.7} fontSize={6.9} fontStyle="italic" dominantBaseline="central" fill="#333">
          IFI30  <tspan fontWeight={700} fill="#111">LAPTM5</tspan>
        </text>
        <Tx x={113} y={75} s={6.9} i fill="#333" ws={1}>SAT1  THBS1</Tx>
        <Tx x={139.5} y={90.7} s={6.9} i fill="#333" a="middle">CHI3L1</Tx>
        <text x={113} y={107.3} fontSize={6.9} fontStyle="italic" dominantBaseline="central" fill="#333">
          <tspan fontWeight={700} fill="#111">CD68</tspan>  RGS1
        </text>
        <Tx x={113} y={119} s={6.9} i fill="#333">TNFSF14</Tx>
        <Tx x={177.5} y={68.7} s={6.6} b a="middle" rot={90}>Mesenchymal</Tx>
        <Tx x={177.5} y={110.3} s={6.6} b a="middle" rot={90}>LM22</Tx>

        {/* B */}
        <Frame box={boxB} />
        <Tx x={338} y={5.8} s={10.6} b a="middle">RSK1 signature vs Survival</Tx>
        <Tx x={338} y={18} s={10.6} b a="middle">(GBM - ACCCC cohort)</Tx>
        <Tx x={385} y={43.3} s={7.5} b a="middle">P(Fisher) =  3e-04</Tx>
        <Tx x={338} y={164.8} s={10} b a="middle">GSVA score</Tx>
        <Tx x={338} y={176.3} s={10} b a="middle">for RSK1 signature</Tx>
        <Tx x={207} y={88} s={10} b a="middle" rot={-90}>Survival</Tx>
        <Tx x={216.5} y={88} s={10} b a="middle" rot={-90}>(days)</Tx>
        <Tx x={434} y={48} s={6.8} b>RSK1</Tx>
        <DotKey x={438.3} y={59} tx={443.5} color={GREEN} r={2.2} label="hi" s={6.8} />
        <DotKey x={438.3} y={69} tx={443.5} color={CYAN} r={2.2} label="hi*" s={6.8} />
        <DotKey x={438.3} y={79} tx={443.5} color={RED} r={2.2} label="lo" s={6.8} />
        <DotKey x={438.3} y={88.5} tx={443.5} color={PURPLE} r={2.2} label="lo*" s={6.8} />
        <Tx x={434} y={107.3} s={6.8} b>status</Tx>
        <DotKey x={438.3} y={118.3} tx={443.5} color="#555" r={2.2} open label="0" s={6.8} />
        <DotKey x={438.3} y={127.5} tx={443.5} color="#111" r={2.2} label="1" s={6.8} />

        {/* C */}
        <Tx x={607} y={19.5} s={11} b a="middle">RSK1 signature in GBM (ACCCC)</Tx>
        <Tx x={474} y={86} s={11.5} b a="middle" rot={-90}>Survival probability</Tx>
        <Tx x={607} y={167} s={10} b a="middle">Time (days)</Tx>
        <Tx x={608} y={43.3} s={7.6} b>RSK1 signature</Tx>
        <PlusKey x={614.3} y={55} tx={623.3} color={KM_GREEN} label="enriched (15)" s={7.2} />
        <PlusKey x={614.3} y={66.7} tx={623.3} color={KM_RED} label="underrepresented (15)" s={7.2} />
        <Tx x={612} y={95} s={9} fill="#222">p = 0.0044</Tx>

        {/* D */}
        <Frame box={boxD} />
        <Tx x={218} y={200.7} s={10.3} b a="middle">RSK1 signature vs protein expression</Tx>
        <Tx x={218} y={212.3} s={10.3} b a="middle">(GBM - ACCCC cohort)</Tx>
        <Tx x={190} y={230} s={7.3} b a="middle">pearson = 0.78 (3.6e-07)</Tx>
        <Tx x={190} y={241} s={7.3} b a="middle">spearman = 0.793 (1.8e-07)</Tx>
        <Tx x={218} y={360.2} s={8.8} b a="middle">GSVA score</Tx>
        <Tx x={218} y={369.8} s={8.8} b a="middle">for RSK1 signature</Tx>
        <Tx x={107} y={283} s={9.5} b a="middle" rot={-90}>RSK1 protein</Tx>
        <Tx x={116} y={283} s={9.5} b a="middle" rot={-90}>(HSCORE)</Tx>
        <Tx x={311.7} y={262.3} s={6.2} b>RSK1</Tx>
        <DotKey x={315.7} y={274} tx={321.7} color={GREEN} r={2} label="hi" s={6.2} />
        <DotKey x={315.7} y={282.5} tx={321.7} color={CYAN} r={2} label="hi*" s={6.2} />
        <DotKey x={315.7} y={291} tx={321.7} color={RED} r={2} label="lo" s={6.2} />
        <DotKey x={315.7} y={300} tx={321.7} color={PURPLE} r={2} label="lo*" s={6.2} />

        {/* E */}
        <Frame box={boxE} />
        <Tx x={473} y={200.7} s={10.3} b a="middle">RSK1 signature vs mRNA expression</Tx>
        <Tx x={473} y={212.3} s={10.3} b a="middle">(GBM - ACCCC cohort)</Tx>
        <Tx x={510.5} y={328.3} s={7.3} b a="middle">pearson = 0.62 (3e-04)</Tx>
        <Tx x={510.5} y={338.3} s={7.3} b a="middle">spearman = 0.661 (1e-04)</Tx>
        <Tx x={474} y={360.2} s={8.8} b a="middle">GSVA score</Tx>
        <Tx x={474} y={369.8} s={8.8} b a="middle">for RSK1 signature</Tx>
        <Tx x={361} y={283} s={9.5} b a="middle" rot={-90}>RSK1 mRNA</Tx>
        <Tx x={370} y={283} s={9.5} b a="middle" rot={-90}>(log2)</Tx>
        <Tx x={563.3} y={263} s={6.2} b>RSK1</Tx>
        <DotKey x={568.3} y={273.3} tx={575.7} color={GREEN} r={2} label="hi" s={6.2} />
        <DotKey x={568.3} y={282.3} tx={575.7} color={CYAN} r={2} label="hi*" s={6.2} />
        <DotKey x={568.3} y={291} tx={575.7} color={RED} r={2} label="lo" s={6.2} />
        <DotKey x={568.3} y={300} tx={575.7} color={PURPLE} r={2} label="lo*" s={6.2} />

        {/* F */}
        <Frame box={boxF} />
        <Tx x={176} y={392.7} s={9.5} b a="middle">RSK1 signature vs mRNA expression</Tx>
        <Tx x={176} y={403.3} s={9.5} b a="middle">(GBM - Gravendeel)</Tx>
        <Tx x={130} y={417.7} s={6.7} b a="middle">pearson = 0.537 (2.09e-12)</Tx>
        <Tx x={129} y={427.7} s={6.7} b a="middle">spearman = 0.551 (&lt; 2.2e-16)</Tx>
        <Tx x={176} y={553} s={8.4} b a="middle">GSVA score</Tx>
        <Tx x={176} y={562} s={8.4} b a="middle">for RSK1 signature</Tx>
        <Tx x={54.5} y={477} s={9} b a="middle" rot={-90}>RSK1 mRNA</Tx>
        <Tx x={63} y={477} s={9} b a="middle" rot={-90}>(log2)</Tx>
        <Tx x={279.5} y={465} s={6.7} b>RSK1 signature</Tx>
        <DotKey x={283.3} y={475.7} tx={291} color={GREEN} r={1.4} label="enriched" s={5.8} />
        <DotKey x={283.3} y={484} tx={291} color={RED} r={1.4} label="underrepresented" s={5.8} />

        {/* G */}
        <Frame box={boxG} />
        <Tx x={506} y={392.7} s={9.5} b a="middle">RSK1 signature vs mRNA expression</Tx>
        <Tx x={506} y={403.3} s={9.5} b a="middle">(GBM - TCGA)</Tx>
        <Tx x={555.5} y={520} s={6.7} b a="middle">pearson = 0.542 (3.2e-41)</Tx>
        <Tx x={554.5} y={531.7} s={6.7} b a="middle">spearman = 0.557 (&lt; 2.2e-16)</Tx>
        <Tx x={507} y={552} s={8.4} b a="middle">GSVA score</Tx>
        <Tx x={507} y={561} s={8.4} b a="middle">for RSK1 signature</Tx>
        <Tx x={387} y={473} s={9} b a="middle" rot={-90}>RSK1 mRNA</Tx>
        <Tx x={395.5} y={473} s={9} b a="middle" rot={-90}>(log2)</Tx>
        <Tx x={610} y={464} s={6.7} b>RSK1 signature</Tx>
        <DotKey x={614} y={475} tx={621.7} color={GREEN} r={1.4} label="enriched" s={5.8} />
        <DotKey x={614} y={483.3} tx={621.7} color={RED} r={1.4} label="underrepresented" s={5.8} />

        {/* H */}
        <Tx x={175} y={586} s={10.6} b a="middle">RSK1 signature in GBM (Gravendeel)</Tx>
        <Tx x={51.7} y={653} s={9.5} b a="middle" rot={-90}>Survival probability</Tx>
        <Tx x={175} y={730.7} s={9.6} b a="middle">Time (days)</Tx>
        <Tx x={191} y={603.3} s={7.7} b>RSK1 signature</Tx>
        <PlusKey x={196.7} y={616} tx={206} color={KM_GREEN} label="enriched (67)" s={7.5} />
        <PlusKey x={196.7} y={627.3} tx={206} color={KM_RED} label="underrepresented (81)" s={7.5} />
        <Tx x={195} y={654} s={9.8} fill="#222">p = 0.00069</Tx>

        {/* I */}
        <Tx x={508} y={587} s={10.6} b a="middle">RSK1 signature in GBM (TCGA)</Tx>
        <Tx x={383.7} y={653} s={9.5} b a="middle" rot={-90}>Survival probability</Tx>
        <Tx x={508} y={730.3} s={9.6} b a="middle">Time (days)</Tx>
        <Tx x={522.3} y={604.3} s={7.7} b>RSK1 signature</Tx>
        <PlusKey x={527.3} y={616.7} tx={536.7} color={KM_GREEN} label="enriched (320)" s={7.5} />
        <PlusKey x={527.3} y={627.7} tx={536.7} color={KM_RED} label="underrepresented (202)" s={7.5} />
        <Tx x={549} y={654.3} s={9.8} fill="#222">p &lt; 0.0001</Tx>

        {/* J */}
        <Frame box={boxJ} color="#666" />
        <Tx x={174} y={758.3} s={11.7} b a="middle">RSK1 signature vs Survival</Tx>
        <Tx x={174} y={770} s={11.7} b a="middle">(GBM - Gravendeel)</Tx>
        <Tx x={71} y={787} s={9} fill="#222">28</Tx>
        <Tx x={276.5} y={787} s={9} a="end" fill="#222">6</Tx>
        <Tx x={71} y={911} s={9} fill="#222">52</Tx>
        <Tx x={276} y={911} s={9} a="end" fill="#222">60</Tx>
        <Tx x={275} y={798} s={7.4} b a="end">P(Fisher) =  3e-04</Tx>
        <Tx x={174} y={932.3} s={11} b a="middle">GSVA score for</Tx>
        <Tx x={174} y={944} s={11} b a="middle">RSK1 signature</Tx>
        <Tx x={33} y={848} s={12} b a="middle" rot={-90}>Survival</Tx>
        <Tx x={43} y={848} s={12} b a="middle" rot={-90}>(days)</Tx>
        <Tx x={283.3} y={821} s={7.4} b>RSK1 signature</Tx>
        <DotKey x={289} y={832.3} tx={296.7} color={GREEN} r={2} label="enriched" s={6.5} />
        <DotKey x={289} y={841.3} tx={296.7} color={RED} r={2} label="underrepresented" s={6.5} />
        <Tx x={283.3} y={855.7} s={7.4} b>status</Tx>
        <DotKey x={289} y={866.7} tx={296.7} color="#555" r={2} open label="0" s={6.5} />
        <DotKey x={289} y={875.7} tx={296.7} color="#111" r={2} label="1" s={6.5} />

        {/* K */}
        <Frame box={boxK} color="#666" />
        <Tx x={507} y={757.3} s={11.7} b a="middle">RSK1 signature vs Survival</Tx>
        <Tx x={507} y={770} s={11.7} b a="middle">(GBM - TCGA)</Tx>
        <Tx x={404.5} y={864} s={9} fill="#222">42</Tx>
        <Tx x={403.5} y={874.3} s={9} fill="#222">132</Tx>
        <Tx x={611} y={864} s={9} a="end" fill="#222">27</Tx>
        <Tx x={611.5} y={874.3} s={9} a="end" fill="#222">261</Tx>
        <Tx x={549} y={797.3} s={7.4} b a="middle">P(Fisher) =  2.5e-05</Tx>
        <Tx x={507} y={931.5} s={11} b a="middle">GSVA score for</Tx>
        <Tx x={507} y={943.2} s={11} b a="middle">RSK1 signature</Tx>
        <Tx x={367} y={847} s={12} b a="middle" rot={-90}>Survival</Tx>
        <Tx x={377} y={847} s={12} b a="middle" rot={-90}>(days)</Tx>
        <Tx x={616.7} y={820} s={7.4} b>RSK1 signature</Tx>
        <DotKey x={621.7} y={831} tx={630} color={GREEN} r={2} label="enriched" s={6.5} />
        <DotKey x={621.7} y={840} tx={630} color={RED} r={2} label="underrepresented" s={6.5} />
        <Tx x={616.7} y={854.3} s={7.4} b>status</Tx>
        <DotKey x={621.7} y={865.7} tx={630} color="#555" r={2} open label="0" s={6.5} />
        <DotKey x={621.7} y={874.3} tx={630} color="#111" r={2} label="1" s={6.5} />
      </svg>
    </div>
  )
}
